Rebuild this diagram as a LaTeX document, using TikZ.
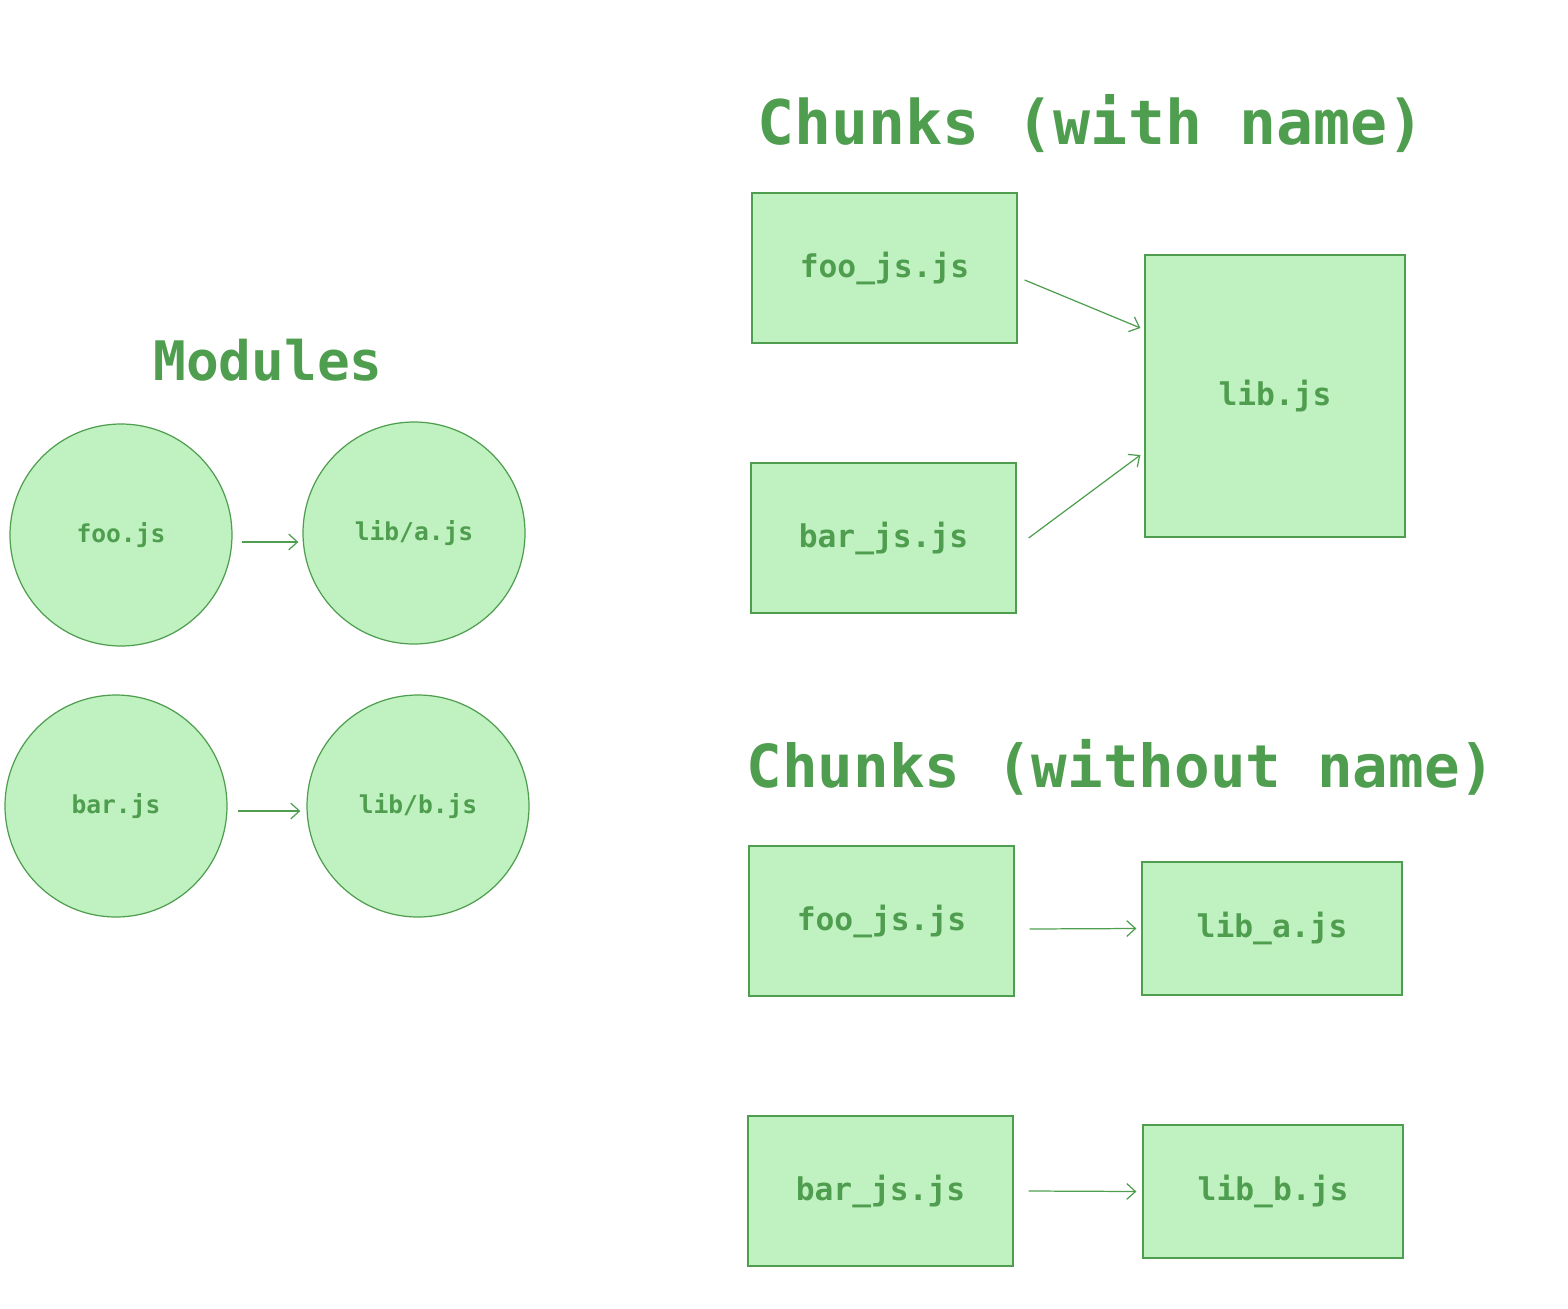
\documentclass[tikz,border=0pt]{standalone}
\usepackage{fontspec}
\setmonofont{DejaVu Sans Mono}
\usetikzlibrary{arrows.meta,positioning}
\definecolor{leafgreen}{HTML}{4F9E4F}
\definecolor{mintfill}{HTML}{C0F1C0}

\begin{document}
\begin{tikzpicture}
  \tikzstyle{module} = [circle, draw=leafgreen, fill=mintfill, line width=0.7pt,
                        minimum size=4.44cm, inner sep=0pt, text=leafgreen,
                        font=\ttfamily\bfseries\fontsize{14}{16}\selectfont]
  \tikzstyle{chunk} = [rectangle, draw=leafgreen, fill=mintfill, line width=0.7pt,
                       minimum width=5.3cm, minimum height=3cm, inner sep=0pt, text=leafgreen,
                       font=\ttfamily\bfseries\fontsize{17.8}{20}\selectfont]
  \tikzstyle{heading} = [text=leafgreen, inner sep=0pt, font=\ttfamily\bfseries]
  \tikzstyle{link} = [draw=leafgreen, line width=0.7pt, -{Straight Barb[length=5pt,width=9pt]}]

\useasboundingbox (0,0) rectangle (31.36,-26.16);

% modules
\node[heading, font=\ttfamily\bfseries\fontsize{31}{34}\selectfont] (modtitle) at (5.36,-7.20) {Modules};
\node[module] (foo) at (2.42,-10.70) {foo.js};
\node[module, right of =foo, xshift=4.86cm, yshift=0.04cm] (liba) {lib/a.js};
\node[module, below of =foo, xshift=-0.10cm, yshift=-4.42cm] (bar) {bar.js};
\node[module, right of =bar, xshift=5.04cm] (libb) {lib/b.js};

% chunks with name
\node[heading, font=\ttfamily\bfseries\fontsize{35}{38}\selectfont] (namedtitle) at (21.82,-2.48) {Chunks (with name)};
\node[chunk] (foojs) at (17.69,-5.36) {foo\_js.js};
\node[chunk, below of =foojs, xshift=-0.02cm, yshift=-4.40cm] (barjs) {bar\_js.js};
\node[chunk, right of =foojs, minimum width=5.2cm, minimum height=5.64cm, xshift=6.81cm, yshift=-2.56cm] (lib) {lib.js};

% chunks without name
\node[heading, font=\ttfamily\bfseries\fontsize{33.7}{36}\selectfont] (plaintitle) at (22.42,-15.34) {Chunks (without name)};
\node[chunk] (foojsB) at (17.63,-18.42) {foo\_js.js};
\node[chunk, right of =foojsB, minimum width=5.2cm, minimum height=2.66cm, xshift=6.81cm, yshift=-0.15cm] (liba_js) {lib\_a.js};
\node[chunk, below of =foojsB, xshift=-0.02cm, yshift=-4.40cm] (barjsB) {bar\_js.js};
\node[chunk, right of =barjsB, minimum width=5.2cm, minimum height=2.66cm, xshift=6.85cm, yshift=-0.01cm] (libb_js) {lib\_b.js};

\draw[link] ([xshift=0.18cm,yshift=-0.14cm]foo.east) -- ([xshift=-0.08cm,yshift=-0.18cm]liba.west);
\draw[link] ([xshift=0.20cm,yshift=-0.10cm]bar.east) -- ([xshift=-0.12cm,yshift=-0.10cm]libb.west);
\draw[link] ([xshift=0.14cm,yshift=-0.24cm]foojs.east) -- ([xshift=-0.08cm,yshift=1.36cm]lib.west);
\draw[link] ([xshift=0.24cm]barjs.east) -- ([xshift=-0.08cm,yshift=-1.18cm]lib.west);
\draw[link] ([xshift=0.30cm,yshift=-0.16cm]foojsB.east) -- ([xshift=-0.10cm]liba_js.west);
\draw[link] ([xshift=0.30cm]barjsB.east) -- ([xshift=-0.12cm]libb_js.west);
\end{tikzpicture}
\end{document}
